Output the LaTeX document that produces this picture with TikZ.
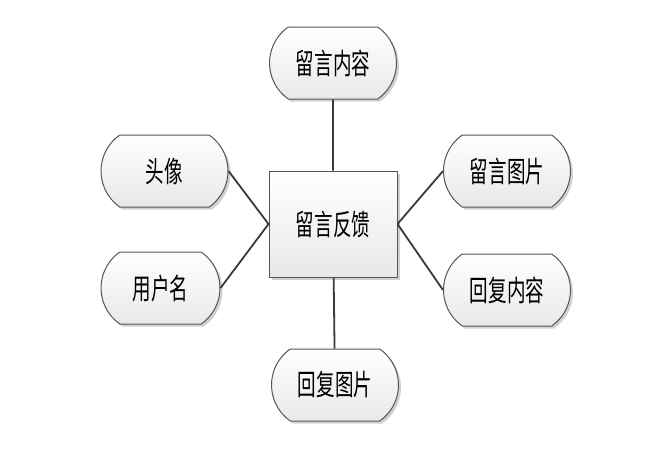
\documentclass[tikz,border=0pt]{standalone}
\usepackage{fontspec}
\newfontfamily\cjk{Noto Sans CJK SC}
\usetikzlibrary{shapes.misc,shadows}
\definecolor{edgegray}{HTML}{555555}
\definecolor{linegray}{HTML}{3A3A3A}
\tikzset{
  base/.style={draw=edgegray, line width=1pt, top color=white, bottom color=black!9,
    font=\cjk\fontsize{29}{31}\selectfont, inner sep=0pt,
    drop shadow={shadow xshift=2.5pt, shadow yshift=-2.5pt, opacity=0.18, fill=black}},
  attr/.style={base, rounded rectangle, rounded rectangle arc length=110, minimum height=72pt, minimum width=127pt},
  hub/.style={base, rectangle, minimum width=128pt, minimum height=106pt},
  link/.style={draw=linegray, line width=1.8pt}
}
\newcommand{\nx}[1]{\scalebox{0.64}[1]{#1}}
\begin{document}
\begin{tikzpicture}[x=1pt,y=-1pt]
\useasboundingbox (0,0) rectangle (662,464);
\node[hub] (c) at (333,224) {\nx{留言反馈}};
\node[attr] (t) at (333,63) {\nx{留言内容}};
\node[attr] (l1) at (164.5,171) {\nx{头像}};
\node[attr, minimum width=119pt] (l2) at (160.5,288) {\nx{用户名}};
\node[attr] (r1) at (507,171) {\nx{留言图片}};
\node[attr] (r2) at (507,290) {\nx{回复内容}};
\node[attr] (b) at (335,385) {\nx{回复图片}};
\draw[link] (t) -- (c);
\draw[link] (c) -- (b);
\draw[link] (l1.east) -- (c.west);
\draw[link] (l2.east) -- (c.west);
\draw[link] (c.east) -- (r1.west);
\draw[link] (c.east) -- (r2.west);
\end{tikzpicture}
\end{document}
